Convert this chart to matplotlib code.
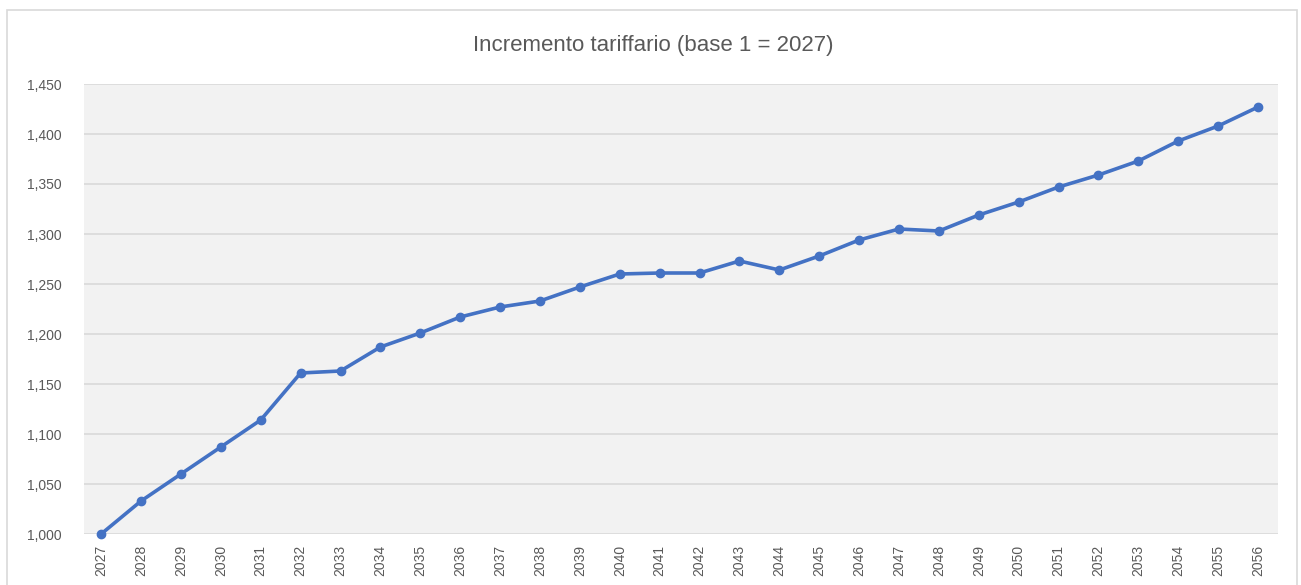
import matplotlib.pyplot as plt
from matplotlib.patches import Rectangle
from matplotlib.ticker import FuncFormatter

# dati
anni = list(range(2027, 2057))
incremento = [1.000, 1.033, 1.060, 1.087, 1.114, 1.161, 1.163, 1.187, 1.201, 1.217,
              1.227, 1.233, 1.247, 1.260, 1.261, 1.261, 1.273, 1.264, 1.278, 1.294,
              1.305, 1.303, 1.319, 1.332, 1.347, 1.359, 1.373, 1.393, 1.408, 1.427]
titolo = 'Incremento tariffario (base 1 = 2027)'

plt.rcParams['font.family'] = ['Liberation Sans', 'DejaVu Sans']
grigio = '#595959'

fig = plt.figure(figsize=(13.01, 5.85), dpi=100)
fig.patches.append(Rectangle((7 / 1301, -0.05), 1290 / 1301, 1 - 10 / 585 + 0.05,
                             transform=fig.transFigure, fill=False,
                             edgecolor='#d9d9d9', linewidth=1.2))

ax = fig.add_axes([84 / 1301, 1 - 534 / 585, (1278 - 84) / 1301, (534 - 84) / 585])
ax.set_facecolor('#f2f2f2')

x = list(range(len(anni)))
ax.plot(x, incremento, color='#4472c4', linewidth=2.6, marker='o', markersize=6,
        zorder=3, clip_on=False)

ax.set_xlim(-0.43, len(anni) - 0.5)
ax.set_ylim(1.0, 1.45)
ax.set_yticks([1.0 + 0.05 * i for i in range(10)])
ax.yaxis.set_major_formatter(FuncFormatter(lambda v, p: f'{v:.3f}'.replace('.', ',')))
ax.set_xticks(x)
ax.set_xticklabels([str(a) for a in anni], rotation=90)
ax.grid(axis='y', color='#d9d9d9', linewidth=1.2)
ax.set_axisbelow(True)
for s in ax.spines.values():
    s.set_visible(False)
ax.tick_params(length=0, colors=grigio, labelsize=10)
ax.tick_params(axis='y', pad=16)
ax.tick_params(axis='x', pad=8)

fig.text(653 / 1301, 1 - 45 / 585, titolo, ha='center', va='center',
         fontsize=16, color=grigio)

fig.savefig('out.png', dpi=100)
